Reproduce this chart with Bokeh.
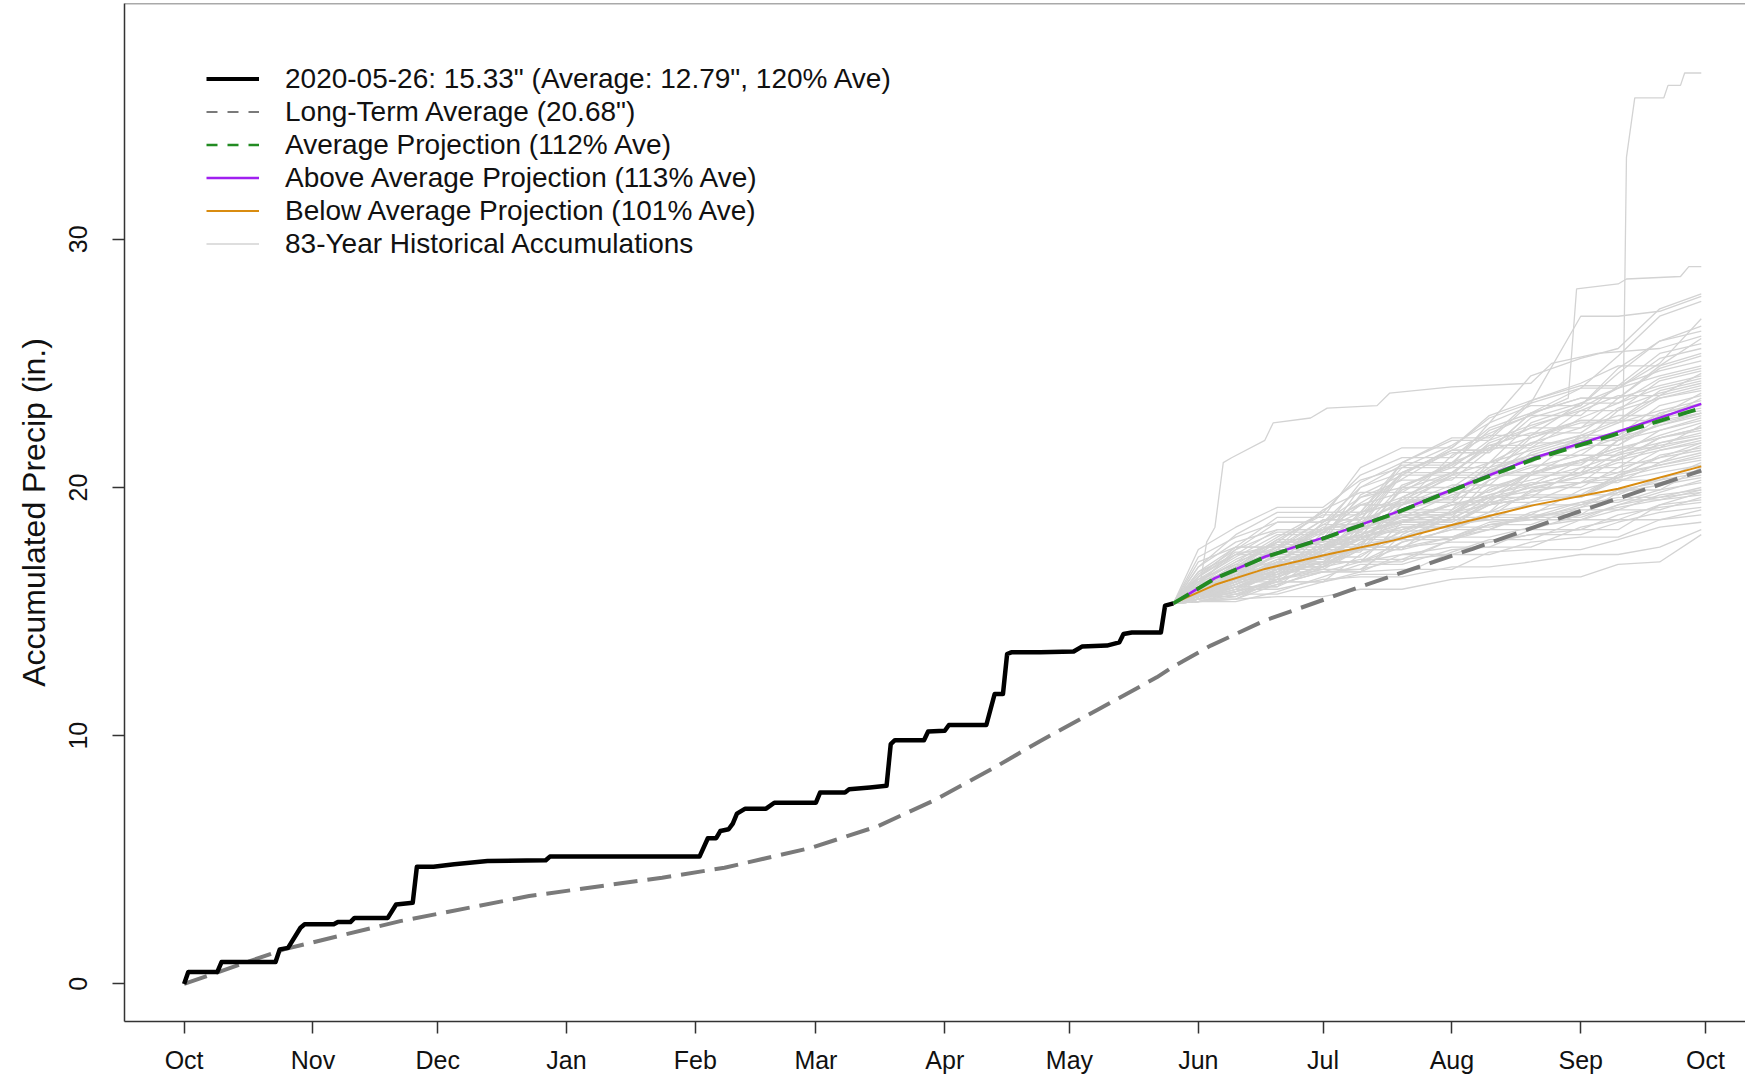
import pandas as pd
from bokeh.plotting import figure
from bokeh.models import Range1d, FixedTicker, DatetimeTickFormatter, Legend, LegendItem, Span
from bokeh.embed import file_html
from bokeh.resources import INLINE

# ---------------- data ----------------
CUR_DATES = ["2019-10-01", "2019-10-02", "2019-10-09", "2019-10-10", "2019-10-23", "2019-10-24",
             "2019-10-26", "2019-10-29", "2019-10-30", "2019-11-06", "2019-11-07", "2019-11-10",
             "2019-11-11", "2019-11-19", "2019-11-21", "2019-11-25", "2019-11-26", "2019-11-30",
             "2019-12-05", "2019-12-13", "2019-12-27", "2019-12-28", "2020-02-02", "2020-02-04",
             "2020-02-06", "2020-02-07", "2020-02-09", "2020-02-10", "2020-02-11", "2020-02-13",
             "2020-02-18", "2020-02-20", "2020-03-01", "2020-03-02", "2020-03-08", "2020-03-09",
             "2020-03-14", "2020-03-18", "2020-03-19", "2020-03-20", "2020-03-27", "2020-03-28",
             "2020-04-01", "2020-04-02", "2020-04-11", "2020-04-13", "2020-04-15", "2020-04-16",
             "2020-04-17", "2020-04-24", "2020-05-02", "2020-05-04", "2020-05-10", "2020-05-13",
             "2020-05-14", "2020-05-16", "2020-05-23", "2020-05-24", "2020-05-26"]
CUR_VALUES = [0.00, 0.48, 0.48, 0.88, 0.88, 1.39,
              1.45, 2.26, 2.40, 2.40, 2.49, 2.49,
              2.66, 2.66, 3.20, 3.27, 4.72, 4.72,
              4.82, 4.95, 4.98, 5.13, 5.13, 5.87,
              5.87, 6.16, 6.23, 6.46, 6.86, 7.06,
              7.06, 7.30, 7.30, 7.71, 7.71, 7.84,
              7.91, 7.98, 9.66, 9.82, 9.82, 10.17,
              10.20, 10.43, 10.43, 11.68, 11.68, 13.29,
              13.36, 13.36, 13.39, 13.59, 13.63, 13.76,
              14.10, 14.16, 14.16, 15.24, 15.33]

LTA_DATES = ["2019-10-01", "2019-10-25", "2019-11-22", "2019-12-23", "2020-01-24", "2020-02-08",
             "2020-02-29", "2020-03-16", "2020-03-30", "2020-04-13", "2020-04-24", "2020-05-08",
             "2020-05-22", "2020-05-26", "2020-06-04", "2020-06-17", "2020-07-12", "2020-08-06",
             "2020-08-30", "2020-09-30"]
LTA_VALUES = [0.00, 1.39, 2.53, 3.54, 4.28, 4.68,
              5.49, 6.36, 7.44, 8.72, 9.79, 11.07,
              12.35, 12.79, 13.63, 14.64, 16.12, 17.53,
              18.94, 20.68]

PROJ_DATES = ["2020-05-26", "2020-06-05", "2020-06-17", "2020-07-02", "2020-07-18",
              "2020-08-01", "2020-08-21", "2020-09-10", "2020-09-30"]
AVG_PROJ = [15.33, 16.33, 17.19, 18.00, 18.94, 19.88, 21.16, 22.17, 23.20]
ABOVE_PROJ = [15.33, 16.35, 17.21, 18.03, 18.97, 19.91, 21.21, 22.25, 23.37]
BELOW_PROJ = [15.33, 16.08, 16.72, 17.30, 17.87, 18.49, 19.30, 19.95, 20.85]

HIST_DATES = ["2020-06-01", "2020-06-10", "2020-06-20", "2020-07-01", "2020-07-10", "2020-07-20",
              "2020-08-01", "2020-08-10", "2020-08-20", "2020-09-01", "2020-09-10", "2020-09-20",
              "2020-09-30"]
HIST_VALUES = [
    [15.4, 15.5, 15.6, 15.6, 15.9, 15.9, 16.3, 16.4, 16.4, 16.4, 16.9, 17.0, 18.1],
    [15.5, 15.9, 15.9, 16.3, 16.4, 16.4, 16.8, 16.8, 17.0, 17.3, 17.3, 17.6, 18.3],
    [15.4, 15.6, 16.2, 16.2, 16.6, 16.7, 16.7, 17.4, 17.5, 17.5, 17.9, 18.4, 18.6],
    [15.6, 16.3, 16.6, 16.6, 16.7, 17.1, 17.3, 17.3, 17.8, 18.0, 18.0, 18.7, 18.9],
    [15.4, 15.4, 15.8, 16.4, 16.9, 16.9, 17.5, 17.6, 17.6, 18.4, 18.7, 18.7, 19.1],
    [16.2, 16.7, 16.7, 17.0, 17.0, 17.3, 17.3, 17.8, 18.1, 18.1, 18.6, 19.0, 19.2],
    [15.4, 15.5, 16.1, 16.6, 16.6, 17.3, 17.6, 17.6, 18.3, 18.3, 18.9, 19.2, 19.4],
    [15.8, 16.5, 17.1, 17.1, 17.6, 17.6, 18.0, 18.0, 18.4, 18.7, 18.7, 19.3, 19.5],
    [15.4, 15.7, 15.7, 16.2, 16.5, 16.5, 17.4, 17.9, 17.9, 18.7, 19.1, 19.1, 19.6],
    [16.0, 16.4, 16.4, 17.2, 17.5, 17.5, 18.0, 18.3, 18.3, 18.9, 19.2, 19.5, 19.7],
    [15.6, 15.6, 16.4, 17.0, 17.0, 17.6, 17.8, 17.8, 18.1, 18.3, 18.3, 19.3, 19.8],
    [15.5, 16.1, 16.7, 16.7, 17.5, 18.0, 18.0, 18.6, 18.8, 18.8, 19.3, 19.6, 19.8],
    [15.7, 15.7, 16.3, 16.6, 17.0, 17.0, 17.9, 18.5, 18.5, 19.2, 19.5, 19.5, 19.9],
    [15.4, 15.8, 16.6, 17.5, 17.5, 18.2, 18.4, 18.4, 18.8, 19.1, 19.1, 19.7, 19.9],
    [16.4, 17.4, 17.4, 17.8, 18.0, 18.0, 18.5, 18.7, 18.7, 19.3, 19.6, 19.6, 20.0],
    [15.5, 15.5, 16.3, 16.7, 16.7, 17.8, 18.3, 18.3, 19.0, 19.4, 19.4, 19.9, 20.2],
    [15.8, 16.2, 16.9, 16.9, 17.7, 18.0, 18.0, 18.5, 18.7, 18.7, 19.3, 19.8, 20.3],
    [15.6, 16.0, 16.0, 16.8, 17.1, 17.1, 17.9, 18.3, 18.9, 18.9, 19.8, 20.1, 20.4],
    [16.0, 16.6, 17.2, 17.2, 18.0, 18.4, 18.4, 19.0, 19.3, 19.3, 19.9, 20.2, 20.5],
    [15.5, 15.8, 16.2, 16.9, 17.6, 17.6, 18.4, 18.8, 18.8, 19.4, 19.8, 20.3, 20.6],
    [15.9, 16.8, 17.3, 17.3, 18.0, 18.3, 18.7, 18.7, 19.4, 19.7, 19.7, 20.4, 20.7],
    [15.6, 16.1, 16.8, 16.8, 17.6, 17.9, 17.9, 18.5, 18.8, 19.2, 19.9, 19.9, 20.8],
    [16.3, 16.9, 16.9, 17.7, 18.1, 18.6, 18.6, 19.3, 19.6, 19.6, 20.3, 20.6, 20.9],
    [15.5, 16.0, 16.5, 17.0, 17.0, 17.8, 18.3, 18.9, 18.9, 19.9, 20.3, 20.3, 21.0],
    [15.7, 16.4, 17.0, 17.0, 18.0, 18.5, 18.5, 19.3, 19.6, 19.6, 20.4, 20.8, 21.1],
    [16.1, 16.7, 16.7, 17.6, 17.9, 17.9, 18.8, 19.4, 19.4, 20.2, 20.6, 20.9, 21.2],
    [15.5, 15.9, 16.5, 17.2, 17.9, 18.6, 18.6, 19.4, 19.7, 19.7, 20.5, 20.9, 21.3],
    [16.6, 17.3, 17.7, 17.7, 18.3, 18.6, 19.0, 19.0, 19.8, 20.2, 20.2, 21.0, 21.4],
    [15.6, 16.2, 16.8, 16.8, 17.8, 18.4, 18.4, 19.5, 20.0, 20.0, 20.8, 21.2, 21.5],
    [15.9, 16.5, 16.5, 17.5, 18.1, 18.7, 18.7, 19.6, 20.0, 20.4, 20.4, 21.3, 21.6],
    [15.5, 15.8, 16.2, 16.2, 17.3, 18.0, 18.8, 18.8, 19.9, 20.5, 21.0, 21.0, 21.7],
    [16.2, 17.0, 17.6, 17.6, 18.4, 18.8, 19.3, 19.3, 20.1, 20.6, 21.1, 21.5, 21.8],
    [15.6, 16.0, 16.0, 17.4, 18.2, 18.2, 19.0, 19.3, 19.6, 19.6, 20.5, 21.2, 21.8],
    [15.8, 16.6, 17.4, 17.4, 18.5, 18.9, 18.9, 19.7, 20.1, 20.6, 20.6, 21.5, 21.9],
    [15.5, 16.1, 16.7, 17.2, 17.2, 18.3, 19.0, 19.6, 19.6, 20.8, 21.3, 21.7, 22.0],
    [17.0, 17.6, 17.6, 18.3, 18.6, 18.6, 19.3, 19.7, 20.2, 20.2, 21.2, 21.6, 22.0],
    [15.7, 16.3, 16.9, 16.9, 18.3, 18.9, 18.9, 20.0, 20.5, 20.5, 21.4, 21.8, 22.1],
    [16.0, 16.8, 17.5, 17.5, 18.5, 19.0, 19.0, 19.9, 20.3, 20.8, 20.8, 21.8, 22.2],
    [15.6, 16.0, 16.4, 17.0, 17.0, 18.6, 19.4, 19.4, 20.6, 21.1, 21.1, 22.0, 22.3],
    [16.4, 17.3, 17.3, 18.3, 18.8, 18.8, 19.7, 20.1, 20.1, 21.1, 21.6, 22.0, 22.4],
    [15.5, 15.9, 16.6, 17.5, 17.5, 19.1, 19.6, 19.6, 20.6, 21.1, 21.6, 21.6, 22.5],
    [15.9, 16.7, 17.4, 17.4, 18.7, 19.3, 19.8, 19.8, 20.6, 21.0, 21.5, 22.1, 22.6],
    [15.7, 16.2, 16.2, 17.5, 18.1, 18.8, 18.8, 20.3, 20.9, 20.9, 21.9, 22.3, 22.7],
    [16.8, 17.8, 18.3, 18.3, 19.0, 19.4, 19.4, 20.3, 20.8, 21.3, 21.3, 22.3, 22.8],
    [15.6, 16.3, 17.1, 17.9, 17.9, 19.3, 19.9, 20.5, 20.5, 21.5, 22.0, 22.5, 22.9],
    [15.8, 16.4, 17.0, 17.0, 18.3, 19.1, 19.1, 20.7, 21.3, 21.3, 22.3, 22.7, 23.0],
    [15.5, 15.8, 16.3, 16.8, 17.5, 17.5, 19.1, 19.9, 20.6, 20.6, 21.9, 22.5, 23.0],
    [16.2, 17.1, 17.8, 17.8, 18.9, 19.5, 19.5, 20.7, 21.2, 21.7, 21.7, 22.6, 23.0],
    [15.4, 15.7, 16.1, 16.6, 16.6, 18.1, 19.0, 19.0, 20.5, 21.1, 21.1, 22.0, 22.4],
    [15.9, 16.7, 17.6, 17.6, 19.0, 19.6, 19.6, 20.6, 21.1, 21.7, 21.7, 22.8, 23.1],
    [15.6, 16.2, 16.9, 17.7, 17.7, 19.3, 20.1, 20.1, 21.4, 22.0, 22.0, 22.9, 23.2],
    [16.5, 17.5, 18.2, 18.2, 19.3, 19.8, 19.8, 20.8, 21.3, 21.9, 21.9, 23.0, 23.3],
    [15.7, 16.1, 16.8, 16.8, 18.5, 19.5, 20.4, 20.4, 21.6, 22.1, 22.1, 23.0, 23.4],
    [16.0, 16.9, 16.9, 18.6, 19.3, 19.3, 20.5, 21.0, 21.0, 22.0, 22.6, 23.1, 23.5],
    [15.5, 16.0, 16.6, 17.4, 17.4, 19.0, 19.8, 20.6, 20.6, 22.1, 22.7, 22.7, 23.6],
    [17.2, 18.0, 18.6, 18.6, 19.6, 20.0, 20.0, 21.0, 21.5, 22.1, 22.1, 23.3, 23.7],
    [15.8, 16.5, 17.3, 18.2, 18.2, 19.9, 20.6, 20.6, 21.8, 22.4, 22.9, 22.9, 23.8],
    [15.6, 16.3, 16.3, 17.9, 18.6, 19.4, 19.4, 21.0, 21.8, 21.8, 23.1, 23.6, 23.9],
    [16.3, 17.2, 18.1, 18.1, 19.6, 20.3, 20.3, 21.5, 22.0, 22.6, 22.6, 23.6, 24.0],
    [15.7, 16.4, 17.3, 18.3, 18.3, 20.1, 20.8, 20.8, 22.1, 22.7, 22.7, 23.7, 24.1],
    [16.1, 17.5, 18.6, 18.6, 20.0, 20.6, 20.6, 21.7, 22.2, 22.2, 23.2, 23.8, 24.2],
    [15.5, 16.0, 16.7, 17.6, 17.6, 19.6, 20.5, 20.5, 22.0, 22.7, 22.7, 23.9, 24.3],
    [16.6, 17.6, 17.6, 19.1, 19.8, 19.8, 21.0, 21.6, 21.6, 22.8, 23.4, 24.0, 24.4],
    [15.9, 16.8, 17.8, 17.8, 19.7, 20.5, 20.5, 21.8, 22.4, 22.4, 23.6, 24.1, 24.5],
    [15.6, 16.2, 17.0, 18.0, 18.0, 20.0, 20.9, 21.7, 21.7, 23.1, 23.7, 23.7, 24.6],
    [17.5, 18.4, 19.2, 19.2, 20.3, 20.8, 20.8, 21.9, 22.5, 23.1, 23.1, 24.3, 24.7],
    [16.0, 16.9, 17.9, 18.9, 18.9, 20.6, 21.4, 21.4, 22.8, 23.4, 23.4, 24.4, 24.8],
    [15.8, 16.4, 16.4, 18.2, 19.3, 19.3, 21.3, 22.1, 22.1, 23.4, 24.0, 24.5, 24.9],
    [16.2, 17.3, 18.3, 18.3, 20.2, 21.0, 21.0, 22.3, 22.9, 22.9, 24.1, 24.7, 25.1],
    [15.6, 16.3, 17.3, 18.5, 18.5, 20.6, 21.5, 21.5, 23.0, 23.6, 23.6, 24.8, 25.3],
    [16.8, 18.1, 19.0, 19.0, 20.5, 21.2, 21.2, 22.4, 23.0, 23.6, 23.6, 24.9, 25.4],
    [15.9, 16.7, 17.8, 19.0, 19.0, 21.0, 21.9, 21.9, 23.4, 24.0, 24.0, 25.2, 25.6],
    [16.4, 17.6, 18.8, 18.8, 20.8, 21.6, 21.6, 22.9, 23.5, 24.1, 24.1, 25.4, 25.8],
    [15.7, 16.5, 17.5, 18.7, 18.7, 21.0, 22.0, 22.0, 23.5, 24.2, 24.9, 24.9, 26.0],
    [15.6, 16.2, 17.0, 18.0, 18.0, 20.0, 21.0, 21.0, 22.6, 23.3, 24.8, 25.9, 26.3],
    [16.0, 16.8, 17.9, 17.9, 20.0, 20.9, 20.9, 22.6, 23.3, 23.3, 24.6, 25.9, 26.5],
    [15.8, 16.6, 17.6, 18.7, 18.7, 20.6, 21.5, 21.5, 23.0, 24.0, 25.3, 26.9, 27.5],
    [15.7, 16.4, 17.3, 18.4, 18.4, 20.5, 21.6, 22.8, 23.4, 26.9, 26.9, 27.1, 27.7],
    [16.1, 17.0, 18.0, 19.0, 19.0, 20.8, 21.7, 22.6, 24.5, 25.2, 25.6, 27.2, 27.8],
    [15.5, 16.0, 16.7, 17.6, 17.6, 19.6, 20.6, 21.6, 22.4, 23.2, 24.0, 25.0, 26.8],
]
EARLY_DATES = ["2020-05-26", "2020-06-01", "2020-06-03", "2020-06-05", "2020-06-07", "2020-06-09",
               "2020-06-17", "2020-06-19", "2020-06-28", "2020-07-02", "2020-07-14", "2020-07-17",
               "2020-08-01", "2020-08-20", "2020-08-25", "2020-09-05", "2020-09-20", "2020-09-30"]
EARLY_VALUES = [15.33, 15.6, 17.8, 18.4, 21.0, 21.2, 21.9, 22.6, 22.8, 23.2, 23.3, 23.8,
                24.05, 24.2, 25.0, 25.4, 25.6, 26.1]
STORM_A_DATES = ["2020-05-26", "2020-06-10", "2020-07-01", "2020-08-01", "2020-08-29", "2020-08-31",
                 "2020-09-10", "2020-09-12", "2020-09-25", "2020-09-27", "2020-09-30"]
STORM_A_VALUES = [15.33, 16.6, 18.5, 21.5, 23.6, 28.0, 28.2, 28.4, 28.5, 28.9, 28.9]
STORM_B_DATES = ["2020-05-26", "2020-06-10", "2020-07-01", "2020-08-01", "2020-09-01", "2020-09-11",
                 "2020-09-12", "2020-09-14", "2020-09-21", "2020-09-22", "2020-09-25", "2020-09-26",
                 "2020-09-30"]
STORM_B_VALUES = [15.33, 16.2, 17.6, 19.3, 20.2, 20.4, 33.3, 35.7, 35.7, 36.2, 36.2, 36.7, 36.7]

MONTH_TICKS = ["2019-10-01", "2019-11-01", "2019-12-01", "2020-01-01", "2020-02-01", "2020-03-01",
               "2020-04-01", "2020-05-01", "2020-06-01", "2020-07-01", "2020-08-01", "2020-09-01",
               "2020-10-01"]
Y_TICKS = [0, 10, 20, 30]

LABELS = ['2020-05-26: 15.33" (Average: 12.79", 120% Ave)',
          'Long-Term Average (20.68")',
          'Average Projection (112% Ave)',
          'Above Average Projection (113% Ave)',
          'Below Average Projection (101% Ave)',
          '83-Year Historical Accumulations']


def to_ms(dates):
    return [pd.Timestamp(d).value // 10**6 for d in dates]


DAY_MS = 86400000
FONT = "Liberation Sans"
NAN = float("nan")
C_CUR, C_LTA, C_AVG, C_ABOVE, C_BELOW, C_HIST = ("black", "#7a7a7a", "#228B22", "#A020F0",
                                                 "#D98C10", "#d3d3d3")

x0 = to_ms(["2019-10-01"])[0]
Y_TOP = 39.50
p = figure(width=1745, height=1081, x_axis_type="datetime",
           x_range=Range1d(x0 - 14.34 * DAY_MS, x0 + 375.64 * DAY_MS),
           y_range=Range1d(-1.515, Y_TOP),
           output_backend="svg", toolbar_location=None,
           min_border_left=124, min_border_right=0, min_border_top=3, min_border_bottom=60)
p.xgrid.visible = False
p.ygrid.visible = False
p.outline_line_color = None
p.background_fill_color = "white"
p.border_fill_color = "white"
# top edge of the box (the right edge lies outside the picture)
p.add_layout(Span(location=Y_TOP, dimension="width", line_color="#555555", line_width=1.5))

# historical accumulations, all starting from the current value
start_val = CUR_VALUES[-1]
hx, hy = [], []
hist_x = to_ms(["2020-05-26"] + HIST_DATES)
for row in HIST_VALUES:
    hx.append(hist_x)
    hy.append([start_val] + row)
for d, v in ((EARLY_DATES, EARLY_VALUES), (STORM_A_DATES, STORM_A_VALUES),
             (STORM_B_DATES, STORM_B_VALUES)):
    hx.append(to_ms(d))
    hy.append(v)
p.multi_line(hx, hy, line_color=C_HIST, line_width=1.3)

p.line(to_ms(LTA_DATES), LTA_VALUES, line_color=C_LTA, line_width=4, line_dash="24 10")
p.line(to_ms(CUR_DATES), CUR_VALUES, line_color=C_CUR, line_width=4.5, line_join="round")
px = to_ms(PROJ_DATES)
p.line(px, BELOW_PROJ, line_color=C_BELOW, line_width=2)
p.line(px, ABOVE_PROJ, line_color=C_ABOVE, line_width=2.5)
p.line(px, AVG_PROJ, line_color=C_AVG, line_width=4, line_dash="18 9")

# legend keys (drawn thinner than the plotted lines, as in the original); no visible data
kx = [x0, x0]
ky = [NAN, NAN]
k_cur = p.line(kx, ky, line_color=C_CUR, line_width=4)
k_lta = p.line(kx, ky, line_color=C_LTA, line_width=2, line_dash="11 10")
k_avg = p.line(kx, ky, line_color=C_AVG, line_width=2.5, line_dash="11 10")
k_above = p.line(kx, ky, line_color=C_ABOVE, line_width=2.5)
k_below = p.line(kx, ky, line_color=C_BELOW, line_width=2)
k_hist = p.line(kx, ky, line_color=C_HIST, line_width=1.5)

# axes
p.xaxis.ticker = FixedTicker(ticks=to_ms(MONTH_TICKS))
p.xaxis.formatter = DatetimeTickFormatter(days="%b", months="%b", years="%b", hours="%b",
                                          hourmin="%b", minutes="%b", context=None)
p.yaxis.ticker = FixedTicker(ticks=Y_TICKS)
p.yaxis.major_label_orientation = "vertical"
p.yaxis.axis_label = "Accumulated Precip (in.)"
for ax in (p.xaxis[0], p.yaxis[0]):
    ax.major_label_text_font = FONT
    ax.major_label_text_font_size = "25px"
    ax.major_label_text_color = "#111111"
    ax.minor_tick_line_color = None
    ax.major_tick_in = 0
    ax.major_tick_out = 12
    ax.major_tick_line_color = "#333333"
    ax.major_tick_line_width = 1.5
    ax.axis_line_color = "#333333"
    ax.axis_line_width = 1.5
p.xaxis.major_label_standoff = 12
p.yaxis.major_label_standoff = 25
p.yaxis.axis_label_text_font = FONT
p.yaxis.axis_label_text_font_size = "32px"
p.yaxis.axis_label_text_font_style = "normal"
p.yaxis.axis_label_text_color = "#111111"
p.yaxis.axis_label_standoff = 15

legend = Legend(items=[LegendItem(label=LABELS[0], renderers=[k_cur]),
                       LegendItem(label=LABELS[1], renderers=[k_lta]),
                       LegendItem(label=LABELS[2], renderers=[k_avg]),
                       LegendItem(label=LABELS[3], renderers=[k_above]),
                       LegendItem(label=LABELS[4], renderers=[k_below]),
                       LegendItem(label=LABELS[5], renderers=[k_hist])],
                location=(82, 761), orientation="vertical",
                border_line_alpha=0, background_fill_alpha=0,
                margin=0, padding=0, spacing=0,
                glyph_width=53, glyph_height=33, label_height=33, label_standoff=26,
                label_text_font=FONT, label_text_font_size="28px", label_text_color="#111111")
p.add_layout(legend, "center")

open("out.html", "w").write(file_html(p, INLINE))
